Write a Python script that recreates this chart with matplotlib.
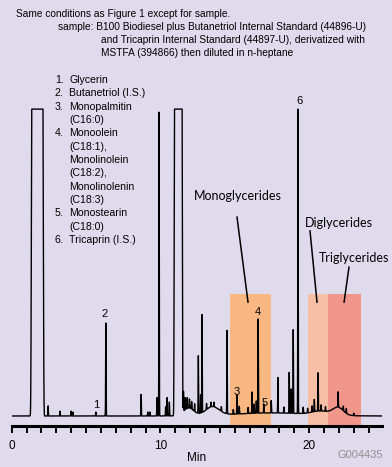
import numpy as np
import matplotlib
matplotlib.use("Agg")
import matplotlib.pyplot as plt

plt.rcParams['font.family'] = ['Liberation Sans', 'DejaVu Sans']

# --- data (time in min, height in % of full scale) ---
peak_t = [2.45, 3.25, 4.0, 4.12, 5.66, 6.33, 8.7, 9.15, 9.3, 9.77, 9.91,
          10.35, 10.45, 10.6, 11.55, 11.65, 11.8, 11.95, 12.1, 12.3, 12.55,
          12.7, 12.8, 13.1, 13.4, 13.6, 14.1, 14.48, 14.9, 15.15, 15.3,
          15.9, 16.16, 16.3, 16.45, 16.57, 16.95, 17.45, 17.9, 18.3, 18.66,
          18.8, 18.93, 19.25, 19.6, 19.9, 20.2, 20.35, 20.6, 20.8, 21.1,
          21.95, 22.3, 22.5, 23.0]
peak_h = [3.3, 1.6, 1.6, 1.3, 1.3, 30.3, 7.0, 1.3, 1.3, 6.0, 100,
          3.0, 6.0, 4.5, 6.5, 4.0, 3.5, 3.0, 2.5, 2.5, 18.9,
          6.0, 32.0, 2.0, 1.5, 1.5, 1.5, 27.4, 1.5, 6.2, 2.5,
          2.0, 7.0, 3.0, 4.0, 30.7, 3.0, 4.0, 11.7, 2.0, 13.4,
          8.0, 27.4, 100, 2.0, 1.5, 2.0, 4.0, 12.5, 2.0, 1.5,
          5.0, 1.5, 1.5, 0.8]

# off-scale (saturated) zones: start, end
sat_start = [1.33, 10.93]
sat_end = [2.12, 11.47]

# baseline drift humps
drift_t = [11.9, 13.5, 17.5, 20.8, 21.95]
drift_h = [2.5, 2.8, 1.0, 1.2, 2.5]
drift_w = [0.35, 0.45, 2.5, 0.6, 0.35]

# shaded class windows
zone_names = ['Monoglycerides', 'Diglycerides', 'Triglycerides']
zone_start = [14.68, 19.9, 21.29]
zone_end = [17.42, 21.29, 23.49]
zone_colors = ['#F9B882', '#F7BFA6', '#F1968B']

peak_labels = ['1', '2', '3', '4', '5', '6']
label_t = [5.67, 6.27, 15.15, 16.56, 17.04, 19.32]
label_y = [3.6, 33.2, 7.8, 33.9, 4.2, 102.6]

legend_lines = ['Glycerin', 'Butanetriol (I.S.)', 'Monopalmitin', '(C16:0)',
                'Monoolein', '(C18:1),', 'Monolinolein', '(C18:2),',
                'Monolinolenin', '(C18:3)', 'Monostearin', '(C18:0)',
                'Tricaprin (I.S.)']
legend_nums = ['1.', '2.', '3.', '', '4.', '', '', '', '', '', '5.', '', '6.']

bg = '#DFDBEC'
W, H = 392, 467

fig = plt.figure(figsize=(W / 100, H / 100), dpi=100, facecolor=bg)
ax = fig.add_axes([11.7 / W, 1 - 426 / H, 370.3 / W, 331 / H])
ax.set_facecolor(bg)

# build trace
t = np.linspace(0, 24.9, 6000)
sig = np.zeros_like(t)
for c, h in zip(peak_t, peak_h):
    sig += h * np.exp(-0.5 * ((t - c) / 0.013) ** 2)
for a, b in zip(sat_start, sat_end):
    c = (a + b) / 2
    hw = (b - a) / 2
    sig += 200 * np.exp(-((t - c) / hw) ** 10)
for c, h, w in zip(drift_t, drift_h, drift_w):
    sig += h * np.exp(-0.5 * ((t - c) / w) ** 2)
sig = np.minimum(sig, 100)

ylo, yhi = -3.26, 104.6
for a, b, col in zip(zone_start, zone_end, zone_colors):
    ax.fill_between([a, b], ylo, 39.7, color=col, lw=0, zorder=1)

ax.plot(t, sig, color='black', lw=1.0, zorder=3)

ax.set_xlim(0, 24.9)
ax.set_ylim(ylo, yhi)
for s in ['top', 'left', 'right']:
    ax.spines[s].set_visible(False)
ax.spines['bottom'].set_linewidth(2.2)
ax.set_yticks([])
ax.set_xticks(np.arange(0, 25, 1))
ax.set_xticklabels(['0' if i == 0 else str(i) if i % 10 == 0 else '' for i in range(25)],
                   fontsize=8.5)
ax.tick_params(axis='x', direction='out', length=5, width=1.4, pad=5)
ax.set_xlabel('Min', fontsize=8.5, labelpad=0)

# peak numbers
for lab, x, y in zip(peak_labels, label_t, label_y):
    ax.text(x, y, lab, fontsize=8, ha='center', va='center', clip_on=False, zorder=4)

# class annotations
ann_text = [(15.22, 71.7), (22.01, 62.9), (23.02, 51.5)]
ann_line = [((15.15, 64.8), (15.89, 37.1)),
            ((20.06, 60.3), (20.53, 37.1)),
            ((22.68, 48.5), (22.35, 37.1))]
for name, (tx, ty), (p0, p1) in zip(zone_names, ann_text, ann_line):
    ax.text(tx, ty, name, fontsize=9, ha='center', va='center',
            family=['Lato', 'DejaVu Sans'], zorder=4)
    ax.plot([p0[0], p1[0]], [p0[1], p1[1]], color='black', lw=1.1, zorder=4)

# header
fs = 7.3
fig.text(16 / W, 1 - 14 / H, 'Same conditions as Figure 1 except for sample.',
         fontsize=fs, va='center')
fig.text(58 / W, 1 - 27 / H,
         'sample: B100 Biodiesel plus Butanetriol Internal Standard (44896-U)',
         fontsize=fs, va='center')
fig.text(101 / W, 1 - 40 / H,
         'and Tricaprin Internal Standard (44897-U), derivatized with',
         fontsize=fs, va='center')
fig.text(101 / W, 1 - 53 / H, 'MSTFA (394866) then diluted in n-heptane',
         fontsize=fs, va='center')

# compound list
fl = 7.6
for i, (num, line) in enumerate(zip(legend_nums, legend_lines)):
    y = 1 - (80 + i * 13.33) / H
    if num:
        fig.text(55 / W, y, num, fontsize=fl, va='center')
    fig.text(69 / W, y, line, fontsize=fl, va='center')

fig.text(383 / W, 1 - 455 / H, 'G004435', fontsize=8, color='#8F8F8F',
         ha='right', va='center')

fig.savefig('out.png', dpi=100, facecolor=bg)
